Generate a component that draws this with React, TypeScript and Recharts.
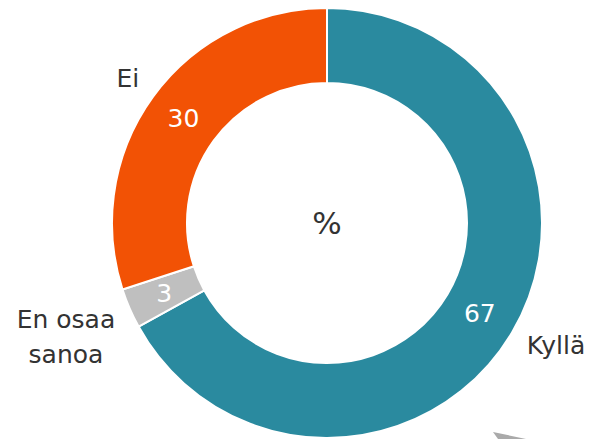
import { PieChart, Pie, Cell } from 'recharts';

// answer categories, clockwise from the top
const categories = ['Kyllä', 'En osaa sanoa', 'Ei'];
const values = [67, 3, 30];
const labelLines = [['Kyllä'], ['En osaa', 'sanoa'], ['Ei']];
const colors = ['#2A8A9F', '#BFBFBF', '#F25205'];
const centerText = '%';

const data = categories.map((name, i) => ({ name, value: values[i] }));

const FONT = '"DejaVu Sans", Verdana, sans-serif';
const FS = 25;
const RAD = Math.PI / 180;

const renderLabel = (props: any) => {
    const { cx, cy, midAngle, innerRadius, outerRadius, index, value } = props;
    const a = -midAngle * RAD;
    const rIn = (innerRadius + outerRadius) / 2;
    const vx = cx + rIn * Math.cos(a);
    const vy = cy + rIn * Math.sin(a);

    const rOut = outerRadius + 17;
    const ox = cx + rOut * Math.cos(a);
    const oy = cy + rOut * Math.sin(a);
    const lines = labelLines[index];
    const lineH = 35;
    const left = ox < cx;
    let tx = ox;
    let anchor: 'start' | 'end' | 'middle' = left ? 'end' : 'start';
    if (lines.length > 1) {
        // multi-line labels are centred on their own block
        const blockW = Math.max(...lines.map((l) => l.length)) * 0.55 * FS;
        tx = left ? ox - blockW / 2 : ox + blockW / 2;
        anchor = 'middle';
    }
    const firstBase = oy < cy ? oy - (lines.length - 1) * lineH : oy + 13;

    return (
        <g>
            {index === 0 && (
                <text x={cx} y={cy} fill="#333333" fontSize={31} fontFamily={FONT} textAnchor="middle" dominantBaseline="central">
                    {centerText}
                </text>
            )}
            <text x={vx} y={vy} fill="#FFFFFF" fontSize={FS} fontFamily={FONT} textAnchor="middle" dominantBaseline="central">
                {value}
            </text>
            <text x={tx} y={firstBase} fill="#333333" fontSize={FS} fontFamily={FONT} textAnchor={anchor}>
                {lines.map((l, i) => (
                    <tspan key={l} x={tx} dy={i === 0 ? 0 : lineH}>{l}</tspan>
                ))}
            </text>
        </g>
    );
};

export default function App() {
    return (
        <div style={{ position: 'absolute', left: 0, top: 0, width: 589, height: 439, background: '#fff' }}>
            <PieChart width={589} height={439} margin={{ top: 0, right: 0, bottom: 0, left: 0 }}>
                <Pie
                    data={data}
                    dataKey="value"
                    nameKey="name"
                    cx={327}
                    cy={223}
                    innerRadius={140}
                    outerRadius={215}
                    startAngle={90}
                    endAngle={-270}
                    stroke="#FFFFFF"
                    strokeWidth={2}
                    label={renderLabel}
                    labelLine={false}
                    isAnimationActive={false}
                >
                    {data.map((entry, index) => (
                        <Cell key={`cell-${index}`} fill={colors[index]} />
                    ))}
                </Pie>
            </PieChart>
            {/* grey pointer tip peeking in at the bottom edge */}
            <svg width={589} height={439} style={{ position: 'absolute', left: 0, top: 0, pointerEvents: 'none' }}>
                <polygon points="493,432 526,439 498,439" fill="#AAAAAA" />
            </svg>
        </div>
    );
}
